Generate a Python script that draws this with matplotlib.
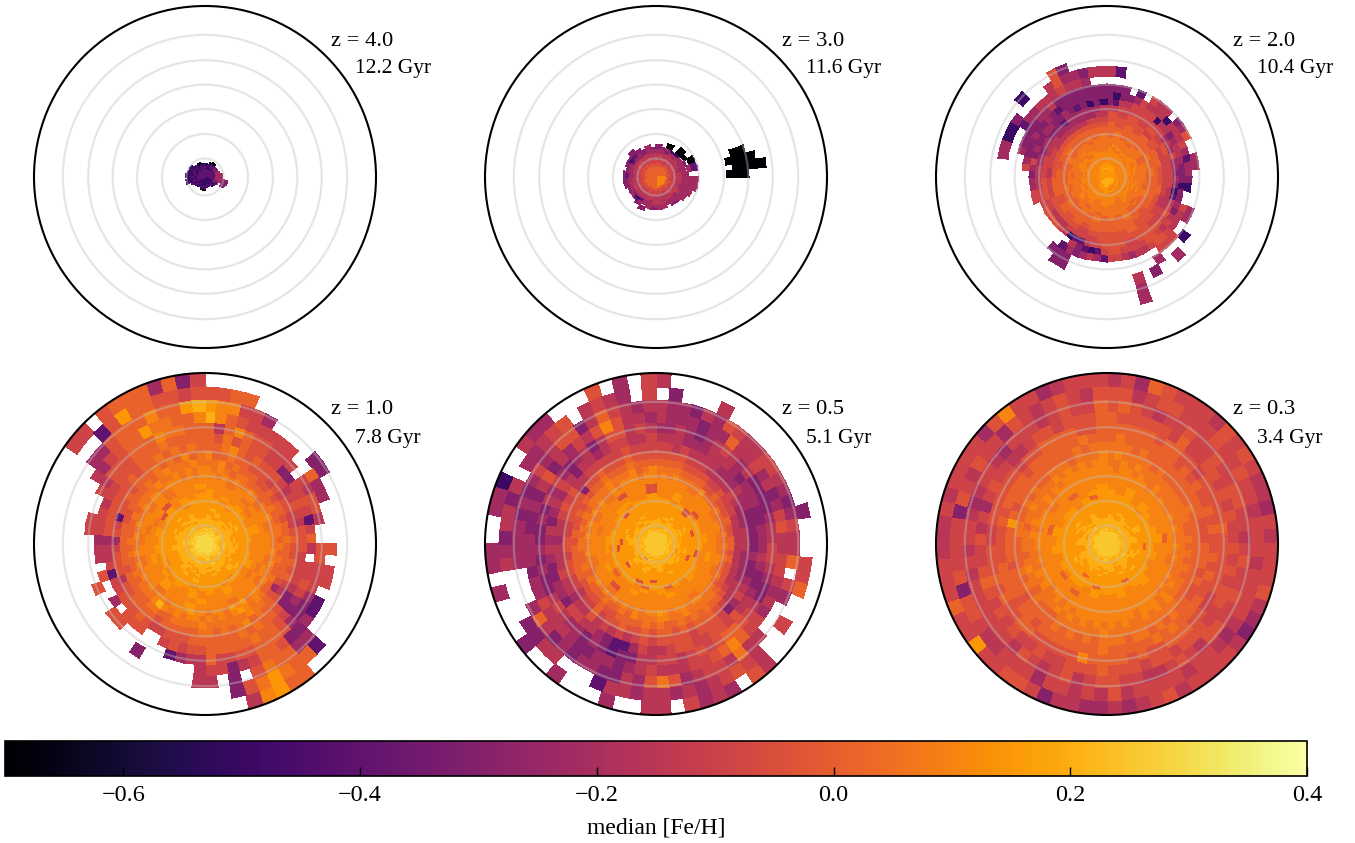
#!/usr/bin/env python3

import numpy as np
import matplotlib
matplotlib.use("Agg")
import matplotlib.pyplot as plt
from matplotlib.cm import ScalarMappable
from matplotlib.colors import Normalize

plt.rcParams['font.family'] = ['Liberation Serif', 'DejaVu Serif']

# median [Fe/H] for each character used in the ring strings, '.' is an empty bin
FEH_LEVELS = {'0': -0.70, '1': -0.50, '2': -0.40, '3': -0.30, '4': -0.22,
              '5': -0.15, '6': -0.09, '7': -0.04, '8': 0.01, '9': 0.06,
              'a': 0.10, 'b': 0.15, 'c': 0.20, 'd': 0.25, 'e': 0.29}

Z_LABELS = ["z = 4.0", "z = 3.0", "z = 2.0", "z = 1.0", "z = 0.5", "z = 0.3"]
AGE_LABELS = ["12.2 Gyr", "11.6 Gyr", "10.4 Gyr", "7.8 Gyr", "5.1 Gyr", "3.4 Gyr"]
CIRCLE_RADII = [3.8, 8.8, 13.9, 18.9, 23.9, 29.1]
CBAR_TICKS = [-0.6, -0.4, -0.2, 0.0, 0.2, 0.4]

# Rings run from the outer edge inwards. Groups in a ring are equal slices of
# the circle, clockwise from north, and the characters divide up their slice.
RINGS_Z4 = ["."] * 23 + [
    ". .3....... . .",
    ". .33...... . .",
    ". .33...... .......1. 1........",
    "........4 43....... ........1 11.1.....",
    "...0....4 44....... .......11 1111.....",
    "..00...44 44....... ......111 11121.0..",
    "1.01.2344 444...... 0.....211 211112101",
    "101123344 4432..... 10...1211 211211011",
    "111223344 44321.... 11..12121 212121121",
    "121223343 44321...1 2111.2122 122112112",
    "121212232 333321211 212121122 112112121",
    "211212122 233212212 121212212 121121212",
    "212121212 122121212 212122121 212112121",
    "121212212 212122121 121221212 121212121",
    "212",
]

RINGS_Z3 = ["."] * 5 + [
    "................0. . . .",
    "...............00. . . .",
    "..............0000 . . .",
    "..............0000 . . .",
    "...............0.0 . . .",
    ".", ".", ".", ".", ".", ".",
    "......02. 44....... . .",
    "....0.02. 444...... . .",
    "..0.00.4. 4444..... ..3...... ....3....",
    "3.0.0.3.4 444443.44 34.3...33 3.3333.4.",
    "334114444 444444444 444424333 233123343",
    "443444444 444544455 544213444 344234344",
    "444545445 554545545 545444454 444443444",
    "555555545 555655555 555555655 455555555",
    "565555555 555565555 555555555 555565555",
    "555655565 655556555 565565556 555655565",
    "656565656 565656565 656565656 565656565",
    "666566666 656666566 666656666 566666656",
    "666666666 667666666 666676666 666667666",
    "676676667 667676676 767676766 676767676",
    "777677767 767777677 777677776 767777777",
    "777777877 777877777 877777787 777778777",
    "877787877 787787878 887787887 787877877",
    "888788888 878888788 888788888 887888878",
    "8a88",
]

RINGS_Z2 = ["."] * 3 + [
    ". ..............4... . .",
    ". ..............4... . ........1...73....",
    "52................ .........4..3.5... . ..44113....5744355",
    ". .......1...4...... .....33........... ......2445556554..",
    "333.2.655.347..44. ....44..666....... .....333.......... ...433334453333333",
    "313346555155564244 31..65556776554566 2454342........... .643334334323333333",
    "325566661553455433 313343565677666677 621235........6644 346343344334323131",
    "556666666664546443 431256767777766777 766522156777766655 554434433324444445",
    "767676766 655667777 766655677 665544445",
    "777767666 665677877 776777766 566555566",
    "878787887 787777888 887878788 777777777",
    "888888888 888878888 888888788 878888888",
    "898888989 888888988 898889888 888988888",
    "898989898 889888989 898988898 889888989",
    "999899899 989898999 989998989 989899899",
    "999999899 999989999 999899999 899999999",
    "9a9999a99 99a999999 99999a999 9999a9999",
    "a9a99a9a9 9a999a999 a99a9a999 99a99a999",
    "a9aa9a 9a9a9a a9a9a9 9aa9a9",
    "aa9aa9 a9aa9a a9aa9a 9aa9aa",
    "aaa9aa 9aaa9a aaaa9a aa9aaa",
    "aaaaaa aa9aaa aaaaaa 9aaaaa",
    "aaaaaa aaaaaa aabaaa aaaaaa",
    "aabaaa aaaaaa abaaaa aaaaaa",
    "abaaaa aaaaaa baaaaa aaaaaa",
    "baaaaa aaaaab baaaaa aaaaaa",
    "baaaaa aaaaba baaaaa aaaaab",
    "bbaaaa aaabaa bbaaaa aaaaab",
    "bbbaaa aabbaa bbbaaa aaaabb",
    "bbbaaa abbaaa bbbaaa aaabbb",
    "cbbaaa bbaaaa cbbaaa aabbbb",
    "cbbaab baaaab cbbaab baaabb",
    "ccbbaa aaaabb ccbbaa aaabbc",
    "cbbb bbbc",
    "bcb",
]

RINGS_Z1 = [
    ". ..........88ba5... . .......66.78884836",
    "7788.............. ........2889b973.. . .........27b887767",
    "baa664....33...... ........448897.3.5 5................. .......447888a88bc",
    "ca8766666..844.... 7.66.2243378865366 5.....3........... ......546788b9988a",
    "858a877666.65775.. 776664334788877668 5542.....77..7.... .66..65777888a9988",
    "879787766336676268 5.6676436788988888 77676..777.4..7.55 466656677788898888",
    "889a87877765676577 766665337889898888 887776678777662655 477777778788989898",
    "a88988777676776678 778786578898a98989 988888788887757776 476277878889898a89",
    "99a898887787887889 88888747899a999999 a99998899888887888 888778888989a999a9",
    "a9a989988888988998 989889889a9aba9a9a 9aa9a9aca999898898 9888989999a99a9a9a",
    "aa9a9a99a9899a9999 9a9a99a9aa9bab9aa9 aabaaa9aa9a9a9a9a9 9a9a99a9aa9aaa9a9a",
    "aa9aa9a9a a9a9aa9aa abaa9aa9a 9aa9a9aaa",
    "aaaa9aaaa aa9aaaaaa baaabaaaa a9aaa9aab",
    "baaaa9aba aaa9aabaa abaabaaba aa9a7aaaa",
    "bababaaba aabaaabab abababaab aba7babab",
    "bbabbbabb abbabbabb babbbabbb bbabbabbb",
    "bbbabbbbb bbbbbabbb bbbbbbabb bbbbbbabb",
    "bbbbbbbbb bbbcbbbbb bcbbbbbbb bbbbbbbbb",
    "bcbbbbcbb bbbbcbbbb bbbcbbbbb bbbbcbbbb",
    "bbcbbcbbb cbbbcbbcb bcbbcbbbc bbcbbbcbb",
    "cbcbbbcbc bcbcbbcbb cbcbcbbbc bcbbcbcbb",
    "cbcccb ccbccc cbcccc ccbccb",
    "cccbcc cccccb ccbccc cccbcc",
    "cccccc cbcccc cccccc ccccbc",
    "cccccc ccccdc cccccc dccccc",
    "ccccccdccccccdcccccccdcc",
    "ccdcccccdcccccdcccccdccc",
    "cdccdcccdccdcccdccdccdcc",
    "dcdcdccdcdcdccdcdcdcdccd",
    "dddcddcdddcddcdddcddcddc",
    "dddddcdddddcdddddcddddcd",
    "dddddddddddeddddddeddddd",
    "ddeddddeddddddedddddeddd",
    "edddeddeddeddeddedddedde",
    "eededdedeededdedeedededd",
    "eeedeeedeeeedeeedeeedeee",
    "eeeeee",
    "eee",
]

RINGS_Z05 = [
    "5................. .........57.4546.5 5..4...4..3...4.44 ..441..544...7.4.6",
    ".3...5.........3.. .668..6..567654545 54552...5533....54 35535.44567.5654.6",
    "544354765566543465 58.64...5595665479 7453344343584...44 443434645773586545",
    "544434485564534675 5665454668a8766555 654344334555644344 4334357354657a7554",
    "445434565453333455 665433567887676566 553323434456533434 334354643453577565",
    "555444555434443344 454334557677667765 564223455663443345 453454653554566556",
    "665655554445443333 343345643677767777 676565657554556555 455676755666667666",
    "777766655556544455 544445556788878788 787787768665667767 766777737787778777",
    "888877776676665555 555555678898989889 898888778777788888 787787878898889888",
    "999988887787778778 8787777899999a99aa 999a89889888989889 9898989999a999a89a",
    "9a9a9999a888988898 9898898999aa9aa9ab aa9a9a9a9a9a9899a9 9a9a9a9a99a9aaa9aa",
    "aaa9aa9a9 9a9aa9aaa aaaa9aa9a aa9a9aaaa",
    "aaaaaaaaa aaaaaaaaa aaaa7aaaa a9aaa7aa7",
    "aabaaaaaa abaaaaaba aabaaabaa aaaaaaaa7",
    "aabaa7aab aaaabaaab abaaa8aab baaabbaab",
    "bbab7abbb baabbab8b b8abbabba bbabbabbb",
    "bbbb7bbbb b7bbbbbbb bb7bbbbbb bbbb7bbbb",
    "bbbbbbb7b bbbbbbbbb 7bbbbbbb7 bbbbbbbbb",
    "bbbbbbbbb bb7bbbbbb bbbbb7bbb 7bbbbbbbb",
    "bbbbbbcbb bbbbbbcbb bbbbbcbbb bbcbbbbbb",
    "bbbcbbbbb bcbbbbbbb bbcbbbbbb bcbbbbcbb",
    "bcbbcb bbcbbc bcbcbb cbbcbb",
    "cbcbbc bcbcbc bcbcbb cbcbcb",
    "cbcccb cbccbc cbcccb cccbcc",
    "cccccc cbcccc cccbcc ccccbc",
    "ccccccccbccccccccccbcccc",
    "cccccccccccccc8ccccccccc",
    "ccdccccccccccdcccccccccc",
    "cccccdccccdccccccdcccccc",
    "cdcccdccdcccdccdcccdccdc",
    "dccdccdcdccdccdccdccdccd",
    "dcdddcddcddcddcddcddcddd",
    "ddddddcddddddddddcdddddd",
    "dddddddddddddddddddddddd",
    "dddddd",
    "ddd",
]

RINGS_Z03 = [
    "564876665767655465 666754356666576545 4455367766b6686665 5565666647a6645666",
    "775677666766766566 656666545665666657 565664666556773766 663765766476567657",
    "787656676676677665 676676677567655667 765765675666666565 665456654666567668",
    "877777686677676766 767677667776776777 877766766767678766 756467665567767778",
    "888887887767777787 777776677888778788 88a777778877878777 667777776778888778",
    "898888887878778787 787877888898988888 988888887887888877 778788887888888988",
    "999898888888888777 888787788989899899 989898988887888788 88b878888888889899",
    "9a9999898888898888 888888889999999999 a99999988898989888 89988989889998999a",
    "99a9a9999999999889 89898999a9a9a99a9a 9a9a9a9a999899a989 99899a9999a9a9a9aa",
    "a9aa9a99a999999999 999999a9a9aaa9aaaa aaaaa9a9a99a9a9999 9a9a999a9a9aaaaaaa",
    "aaaaaaa9a9a99a9a99 a9a99a9a9aaaaaaaaa aaaaaaa9aa9aaa9a9a aa9aaa9a9aaaaaaaaa",
    "aaaaaaaaa a9aaaaaaa aaaaaaaaa aaa9aaaaa",
    "aabaaaaa8 aaaaaaaaa aaa8aaaaa a8aaa8aab",
    "bababaaab aaaabaaba abaaa8aab abaaaaabb",
    "bbbabbabb abaabbabb bbabbabab bbabbab8b",
    "bbbbabbbb bbabbbbbb b8bbbbbbb bbbbbabbb",
    "bbbbbbbbb bbbbbb8bb bbbbbbbbb bbbbbbbbb",
    "bbbbbbbbb 8bbbbbbbb bbb8bbbbb bbbbbbbbb",
    "bbbbbbcbb bbbbcbbbb bbbbbbcbb bbbcbbbbb",
    "bbcbbbcbb bcbbbbcbb bcbbbcbbb bbcbbbcbb",
    "cbbcbbcbc bbcbbcbbb cbbcbbcbb cbbcbbcbb",
    "cbccbc bcbcbc bccbcb cbcbcb",
    "cccbcc bcccbc cbcccb ccbccc",
    "cccccc cbcccc cccccb cccbcc",
    "cccccc ccccbc cccccc cbcccc",
    "ccccccccdccccccccccccdcc",
    "cccdccccccccccdccccccccc",
    "ccccccdcccccdcccccdccccc",
    "cdcccdcccdccdcccdccdcccd",
    "dccdccdcdccdccdccdccdcdc",
    "dcddcdddcddcddcdddcddcdd",
    "ddddddcdddddddddcddddddd",
    "dddddddddddddddddddddddd",
    "dddddd",
    "ddd",
]

PANEL_RINGS = [RINGS_Z4, RINGS_Z3, RINGS_Z2, RINGS_Z1, RINGS_Z05, RINGS_Z03]

RMAX = 35.0
RING_RATIO = 0.916
FIG_W = 1355
FIG_H = 843
PANEL_R = 171
CENTRES_X = [205, 656, 1107]
CENTRES_Y = [177, 544]
TEXT_OFFSETS_Y = [(-135, -108), (-134, -105)]

cmap = plt.get_cmap('inferno')
norm = Normalize(vmin=-0.7, vmax=0.4)


def draw_rings(ax, rings):
    for k, ring in enumerate(rings):
        r_out = RMAX * RING_RATIO ** k
        r_in = RMAX * RING_RATIO ** (k + 1)
        if k == len(rings) - 1:
            r_in = 0.0

        groups = ring.split()
        span = 2 * np.pi / len(groups)
        for g, group in enumerate(groups):
            if set(group) == {'.'}:
                continue
            values = [FEH_LEVELS.get(c, np.nan) for c in group]
            # wide bins get split so their edges still follow the arc
            sub = int(np.ceil(span / len(group) / np.radians(5)))
            values = np.repeat(values, sub)
            theta = np.linspace(g * span, (g + 1) * span, len(values) + 1)
            ax.pcolormesh(theta, [r_in, r_out], np.ma.masked_invalid([values]),
                          cmap=cmap, norm=norm, edgecolors='face', linewidth=0.15)


def format_panel(ax):
    ax.set_theta_zero_location('N')
    ax.set_theta_direction(-1)
    ax.set_rlim(0, RMAX)
    ax.set_xticks([])
    ax.set_rgrids(CIRCLE_RADII, labels=[])
    ax.grid(True, color='#c0c0c0', alpha=0.4, linewidth=1.6)
    ax.spines['polar'].set_linewidth(1.5)
    ax.spines['polar'].set_color('black')
    ax.tick_params(length=0)


def main():
    fig = plt.figure(figsize=(FIG_W / 100, FIG_H / 100), dpi=100)

    for i, rings in enumerate(PANEL_RINGS):
        cx = CENTRES_X[i % 3]
        cy = CENTRES_Y[i // 3]
        ax = fig.add_axes([(cx - PANEL_R) / FIG_W, 1 - (cy + PANEL_R) / FIG_H,
                           2 * PANEL_R / FIG_W, 2 * PANEL_R / FIG_H],
                          projection='polar')
        draw_rings(ax, rings)
        format_panel(ax)
        z_off, age_off = TEXT_OFFSETS_Y[i // 3]
        fig.text((cx + 126) / FIG_W, 1 - (cy + z_off) / FIG_H, Z_LABELS[i],
                 fontsize=16.2, va='center', ha='left')
        fig.text((cx + 150) / FIG_W, 1 - (cy + age_off) / FIG_H, AGE_LABELS[i],
                 fontsize=15.5, va='center', ha='left')

    cax = fig.add_axes([5 / FIG_W, 1 - 776 / FIG_H, 1302 / FIG_W, 35 / FIG_H])
    cbar = fig.colorbar(ScalarMappable(norm=norm, cmap=cmap), cax=cax,
                        orientation='horizontal', ticks=CBAR_TICKS)
    cbar.ax.tick_params(direction='in', length=6.5, width=1, labelsize=17.5, pad=6.5)
    cbar.outline.set_linewidth(1.2)
    cbar.set_label('median [Fe/H]', fontsize=17, labelpad=8.5)

    fig.savefig('out.png', dpi=100)


if __name__ == "__main__":
    main()
